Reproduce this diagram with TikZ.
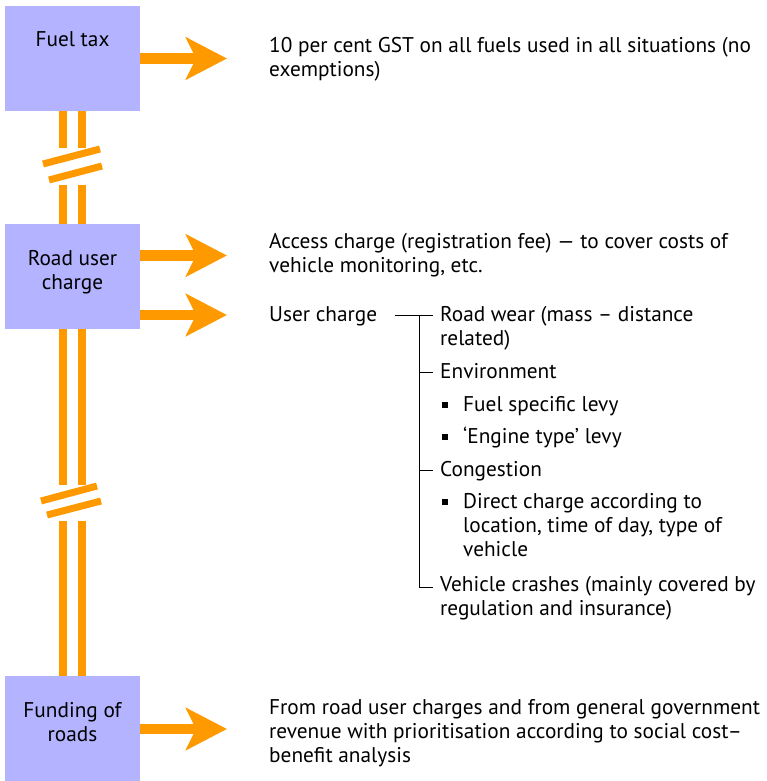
\documentclass[tikz,border=0pt]{standalone}
\usepackage{fontspec}
\setmainfont{PT Sans}
\usetikzlibrary{arrows.meta,calc}
\definecolor{boxfill}{HTML}{B3B3FF}
\definecolor{orng}{HTML}{FF9900}
\begin{document}
\begin{tikzpicture}[x=1pt,y=-1pt,
  every node/.style={font=\fontsize{21.3}{24}\selectfont, inner sep=0pt},
  stagebox/.style={fill=boxfill, minimum width=135pt, minimum height=105pt},
  txt/.style={anchor=base west, align=left},
  lbl/.style={anchor=base, align=center},
  bulletsq/.style={fill=black, minimum size=5.5pt},
  bar/.style={draw=orng, line width=8pt},
  brk/.style={draw=orng, line width=7pt},
  bigarrow/.style={draw=orng, line width=10.5pt, -{Stealth[length=41pt,width=42pt,inset=10pt]}},
  tree/.style={draw=black, line width=0.9pt}]
\useasboundingbox (0,0) rectangle (767,781);

% stage boxes
\node[stagebox] (fuel) at (72.5,58.5) {};
\node[stagebox] (road) at (72.5,276.5) {};
\node[stagebox] (fund) at (72.5,728.5) {};
% (multi-line nodes are placed by the baseline of their last line)
\node[lbl] (fuellbl) at (72.5,46.5) {Fuel tax};
\node[lbl] (roadlbl) at (72.5,289) {Road user\\charge};
\node[lbl] (fundlbl) at (72.5,741) {Funding of\\roads};

% double bars
\foreach \dx in {-9.5,9.5} {
  \draw[bar] ($(fuel.south)+(\dx,0)$) -- ++(0,37);
  \draw[bar] ($(road.north)+(\dx,0)$) -- ++(0,-39);
  \draw[bar] ($(road.south)+(\dx,0)$) -- ++(0,156);
  \draw[bar] ($(fund.north)+(\dx,0)$) -- ++(0,-155);
}
% break marks
\draw[brk] (43,164) -- (100,149);
\draw[brk] (49,180) -- (102,166);
\draw[brk] (41,501) -- (97,486);
\draw[brk] (47,515) -- (101,501);

% arrows
\coordinate (fueltip) at (227,58.5);
\coordinate (acctip) at (227,255.5);
\coordinate (usertip) at (227,315);
\coordinate (fundtip) at (227,729);
\draw[bigarrow] (fuel.east) -- (fueltip);
\draw[bigarrow] (road.east |- acctip) -- (acctip);
\draw[bigarrow] (road.east |- usertip) -- (usertip);
\draw[bigarrow] (fund.east |- fundtip) -- (fundtip);

% texts
\node[txt] (fueltxt) at (269,77) {10 per cent GST on all fuels used in all situations (no\\exemptions)};
\node[txt] (acctxt) at (269,272) {Access charge (registration fee) — to cover costs of\\vehicle monitoring, etc.};
\node[txt] (usertxt) at (269,321) {User charge};
\node[txt] (wear) at (440,345) {Road wear (mass – distance\\related)};
\node[txt] (env) at (440,378) {Environment};
\node[bulletsq] (b1) at (445,405) {};
\node[txt] (fuellevy) at (463,411) {Fuel specific levy};
\node[bulletsq] (b2) at (445,437) {};
\node[txt] (engine) at (463,443) {‘Engine type’ levy};
\node[txt] (cong) at (440,476) {Congestion};
\node[bulletsq] (b3) at (445,502) {};
\node[txt] (direct) at (463,556) {Direct charge according to\\location, time of day, type of\\vehicle};
\node[txt] (crash) at (440,615) {Vehicle crashes (mainly covered by\\regulation and insurance)};
\node[txt] (fundtxt) at (269,762) {From road user charges and from general government\\revenue with prioritisation according to social cost–\\benefit analysis};

% tree connectors
\coordinate (tstart) at (395,315);
\coordinate (tj1) at (419,315);
\coordinate (tj2) at (419,372);
\coordinate (tj3) at (419,470);
\coordinate (tend) at (433,587);
\draw[tree] (tstart) -- (tj1 -| tend);
\draw[tree] (tj1) |- (tend);
\draw[tree] (tj2) -- (tj2 -| tend);
\draw[tree] (tj3) -- (tj3 -| tend);
\end{tikzpicture}
\end{document}
